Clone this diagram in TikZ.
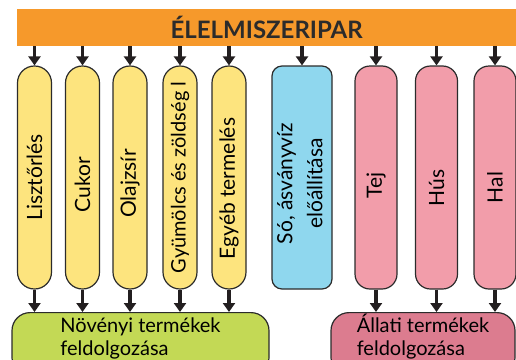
\documentclass[tikz,border=0pt]{standalone}
\usepackage{fontspec}
\setmainfont{Lato}
\usetikzlibrary{arrows.meta}
\definecolor{orng}{HTML}{F6992B}
\definecolor{yel}{HTML}{FDE47E}
\definecolor{blu}{HTML}{8FD7EE}
\definecolor{pnk}{HTML}{F29DAA}
\definecolor{grn}{HTML}{C3D955}
\definecolor{dpnk}{HTML}{DC7C8F}
\definecolor{edgec}{HTML}{2B2B2B}
\definecolor{arrc}{HTML}{231F20}
\newcommand\vtxt[2][0pt]{\rotatebox{90}{#2\kern#1}}
\begin{document}
\begin{tikzpicture}[x=1pt,y=-1pt,
  box/.style={draw=edgec, line width=1.2pt, inner sep=0pt},
  pilltext/.style={font=\fontsize{21}{27}\selectfont},
  ypill/.style={box, pilltext, fill=yel, minimum width=34pt, minimum height=223pt, rounded corners=16.9pt},
  bpill/.style={box, pilltext, fill=blu, minimum width=60pt, minimum height=223pt, rounded corners=10pt},
  ppill/.style={box, pilltext, fill=pnk, minimum width=42pt, minimum height=223pt, rounded corners=15pt},
  bottombox/.style={box, anchor=north, rounded corners=18pt, align=left,
     text height=43pt, text depth=20pt, font=\fontsize{20}{23}\selectfont},
  arr/.style={line width=3.2pt, draw=arrc, -{Triangle[length=9pt,width=12pt]}}
]
\useasboundingbox (0,0) rectangle (516,359);
\node[fill=orng, inner sep=0pt, minimum width=499pt, minimum height=37pt, anchor=north west,
  font=\fontsize{24}{28}\selectfont\bfseries, text=edgec] (top) at (17,9) {ÉLELMISZERIPAR};

\node[ypill] (p1) at (34.5,177.5) {\vtxt{Lisztőrlés}};
\node[ypill] (p2) at (82.5,177.5) {\vtxt[14pt]{Cukor}};
\node[ypill] (p3) at (130,177.5) {\vtxt[12pt]{Olajzsír}};
\node[ypill, font=\fontsize{20}{24}\selectfont] (p4) at (180,177.5) {\vtxt{Gyümölcs és zöldség l}};
\node[ypill] (p5) at (229,177.5) {\vtxt[22pt]{Egyéb termelés}};
\node[bpill] (p6) at (302,177.5) {\vtxt[12pt]{\begin{tabular}{@{}c@{}}Só, ásványvíz\\[3pt]előállítása\end{tabular}}};
\node[ppill] (p7) at (376,177.5) {\vtxt[16pt]{Tej}};
\node[ppill] (p8) at (436.5,177.5) {\vtxt[21pt]{Hús}};
\node[ppill] (p9) at (495,177.5) {\vtxt[20pt]{Hal}};

\node[bottombox, fill=grn, minimum width=257pt] (veg) at (140.5,312) {Növényi termékek\\feldolgozása};
\node[bottombox, fill=dpnk, minimum width=184pt] (anim) at (423,312) {Állati termékek\\feldolgozása};

\foreach \p in {p1,p2,p3,p4,p5,p6,p7,p8,p9}
  \draw[arr] (top.south -| \p.north) -- (\p.north);
\foreach \p in {p1,p2,p3,p4,p5}
  \draw[arr] (\p.south) -- (\p.south |- veg.north);
\foreach \p in {p7,p8,p9}
  \draw[arr] (\p.south) -- (\p.south |- anim.north);
\end{tikzpicture}
\end{document}
